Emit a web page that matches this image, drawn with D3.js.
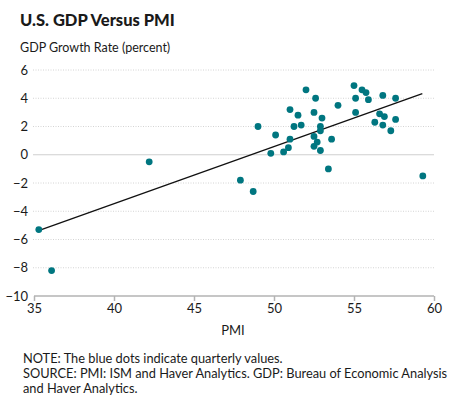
<!DOCTYPE html>
<html>
<head>
<meta charset="utf-8">
<script src="https://cdn.jsdelivr.net/npm/d3@7"></script>
<style>
  html, body { margin: 0; padding: 0; background: #fff; }
  svg { display: block; }
  text { font-family: Lato, "Open Sans", sans-serif; fill: #1a1a1a; }
</style>
</head>
<body>
<svg id="chart" width="452" height="401"></svg>
<script>
// ---- data ----
const pmi = [35.3, 36.1, 42.2, 47.9, 48.7, 49.0, 49.8, 50.1, 50.6, 50.9,
             51.0, 51.0, 51.25, 51.5, 51.7, 52.0, 52.5, 52.5, 52.5, 52.6,
             52.7, 52.9, 52.9, 52.9, 53.0, 53.4, 53.6, 54.0, 55.0, 55.1,
             55.1, 55.5, 55.75, 55.9, 56.3, 56.6, 56.8, 56.8, 56.9, 57.3,
             57.6, 57.6, 59.3];
const gdp = [-5.3, -8.2, -0.5, -1.8, -2.6, 2.0, 0.1, 1.4, 0.2, 0.5,
             1.1, 3.2, 2.0, 2.8, 2.1, 4.6, 3.0, 1.3, 0.6, 4.0,
             0.9, 2.0, 1.7, 0.3, 2.6, -1.0, 1.1, 3.5, 4.9, 4.0,
             3.0, 4.6, 4.4, 3.9, 2.3, 2.9, 4.2, 2.1, 2.7, 1.7,
             4.0, 2.5, -1.5];
const trendPmi = [35.33, 59.27];
const trendGdp = [-5.35, 4.33];
const xTicks = [35, 40, 45, 50, 55, 60];
const yTicks = [-10, -8, -6, -4, -2, 0, 2, 4, 6];

const title = "U.S. GDP Versus PMI";
const yTitle = "GDP Growth Rate (percent)";
const xTitle = "PMI";
const notes = ["NOTE: The blue dots indicate quarterly values.",
               "SOURCE: PMI: ISM and Haver Analytics. GDP: Bureau of Economic Analysis",
               "and Haver Analytics."];

// ---- layout ----
const svg = d3.select("#chart");
const x = d3.scaleLinear().domain([35, 60]).range([34, 434]);
const y = d3.scaleLinear().domain([-10, 6]).range([296, 70]);

svg.append("text").attr("x", 20).attr("y", 26)
  .style("font-size", "16.5px").style("font-weight", 900).text(title);
svg.append("text").attr("x", 20).attr("y", 52)
  .style("font-size", "12.5px").text(yTitle);

// grid
const grid = svg.append("g");
grid.selectAll("line").data(yTicks.filter(d => d !== -10)).join("line")
  .attr("x1", 33).attr("x2", 434)
  .attr("y1", d => y(d)).attr("y2", d => y(d))
  .attr("stroke", d => d === 0 ? "#cfcfcf" : "#d4d4d4")
  .attr("stroke-width", 1)
  .attr("stroke-dasharray", d => d === 0 ? null : "1,1.5");

// y labels
svg.append("g").selectAll("text").data(yTicks).join("text")
  .attr("x", 28).attr("y", d => y(d)).attr("dy", "0.35em")
  .attr("text-anchor", "end").style("font-size", "13px")
  .text(d => d < 0 ? "\u2212" + Math.abs(d) : d);

// x axis
const xAxis = svg.append("g").attr("transform", `translate(0,${y(-10)})`)
  .call(d3.axisBottom(x).tickValues(xTicks).tickSize(5).tickPadding(3).tickFormat(d3.format("d")));
xAxis.select(".domain").attr("stroke", "#b3b3b3").attr("stroke-width", 1.5).attr("d", `M${x(35)},0H${x(60)}`);
xAxis.selectAll(".tick line").attr("stroke", "#b3b3b3").attr("stroke-width", 1.5);
xAxis.selectAll(".tick text").style("font-size", "13px")
  .style("font-family", "Lato, 'Open Sans', sans-serif").attr("fill", "#1a1a1a");

svg.append("text").attr("x", 233).attr("y", 335).attr("text-anchor", "middle")
  .style("font-size", "13px").text(xTitle);

// trend line
svg.append("line")
  .attr("x1", x(trendPmi[0])).attr("y1", y(trendGdp[0]))
  .attr("x2", x(trendPmi[1])).attr("y2", y(trendGdp[1]))
  .attr("stroke", "#111").attr("stroke-width", 1.3);

// dots
const pts = pmi.map((p, i) => ({p, g: gdp[i]}));
svg.append("g").selectAll("circle").data(pts).join("circle")
  .attr("cx", d => x(d.p)).attr("cy", d => y(d.g)).attr("r", 3.4)
  .attr("fill", "#007680");

// notes
svg.append("g").selectAll("text").data(notes).join("text")
  .attr("x", 23).attr("y", (d, i) => 363 + i * 15)
  .style("font-size", "12.8px").text(d => d);
</script>
</body>
</html>
